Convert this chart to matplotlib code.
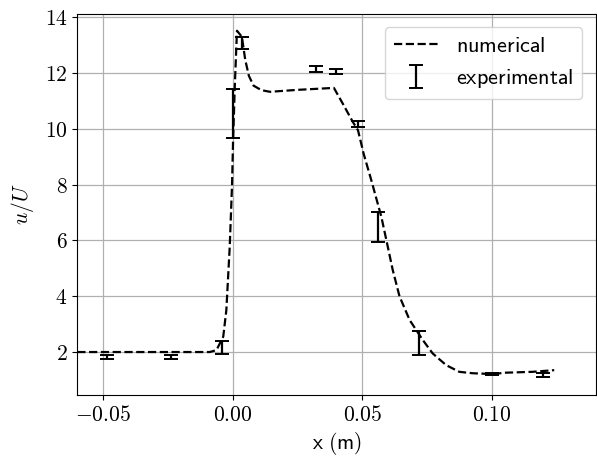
import matplotlib
matplotlib.use("Agg")
import matplotlib.pyplot as plt

plt.rcParams["mathtext.fontset"] = "cm"
plt.rcParams["font.size"] = 15.5

# Numerical velocity profile u/U along x (m)
x_num = [-0.060, -0.0089, -0.0063, -0.0037, -0.0025, -0.0012, -0.0003, 0.0001,
         0.0008, 0.0016, 0.0035, 0.0048, 0.0062, 0.0080, 0.0110, 0.0143,
         0.0250, 0.0390, 0.0424, 0.0463, 0.0483, 0.0505, 0.0534, 0.0573,
         0.0598, 0.0617, 0.0643, 0.0682, 0.0733, 0.0771, 0.0823, 0.0874,
         0.0925, 0.1002, 0.1054, 0.1156, 0.1240]
u_num = [2.00, 2.00, 2.07, 2.55, 3.50, 5.77, 8.00, 9.60,
         11.63, 13.52, 13.30, 12.47, 11.90, 11.55, 11.39, 11.33,
         11.40, 11.47, 10.91, 10.25, 9.95, 9.10, 8.17, 6.85,
         5.77, 4.94, 4.00, 3.15, 2.43, 1.95, 1.53, 1.29,
         1.24, 1.21, 1.26, 1.29, 1.35]

# Experimental measurements with uncertainty
x_exp = [-0.0485, -0.0240, -0.0042, 0.0001, 0.0037, 0.0320, 0.0400, 0.0483,
         0.0562, 0.0718, 0.1000, 0.1198]
u_exp = [1.82, 1.82, 2.17, 10.55, 13.08, 12.14, 12.07, 10.18,
         6.49, 2.33, 1.21, 1.18]
u_err = [0.07, 0.07, 0.23, 0.88, 0.20, 0.10, 0.09, 0.10,
         0.54, 0.42, 0.05, 0.08]

x_ticks = [-0.05, 0.00, 0.05, 0.10]
x_tick_labels = [r"$-0.05$", r"$0.00$", r"$0.05$", r"$0.10$"]
y_ticks = [2, 4, 6, 8, 10, 12, 14]
y_tick_labels = [r"$2$", r"$4$", r"$6$", r"$8$", r"$10$", r"$12$", r"$14$"]

fig = plt.figure(figsize=(5.97, 4.57), dpi=100)
ax = fig.add_axes([0.1295, 0.1357, 0.8683, 0.8337])

ax.plot(x_num, u_num, "k--", lw=1.6, label=r"$\mathsf{numerical}$", zorder=3)
ax.errorbar(x_exp, u_exp, yerr=u_err, fmt="none", ecolor="k", elinewidth=1.6,
            capsize=5, capthick=1.4, label=r"$\mathsf{experimental}$", zorder=4)

ax.set_xlim(-0.06, 0.14)
ax.set_ylim(0.46, 14.12)
ax.set_xticks(x_ticks)
ax.set_xticklabels(x_tick_labels)
ax.set_yticks(y_ticks)
ax.set_yticklabels(y_tick_labels)
ax.grid(True, color="#b0b0b0", lw=0.9)
ax.set_xlabel(r"$\mathsf{x\ (m)}$")
ax.set_ylabel(r"$u/U$", labelpad=6)
ax.legend(loc="upper right", fontsize=16, borderaxespad=0.6)

fig.savefig("out.png", dpi=100)
